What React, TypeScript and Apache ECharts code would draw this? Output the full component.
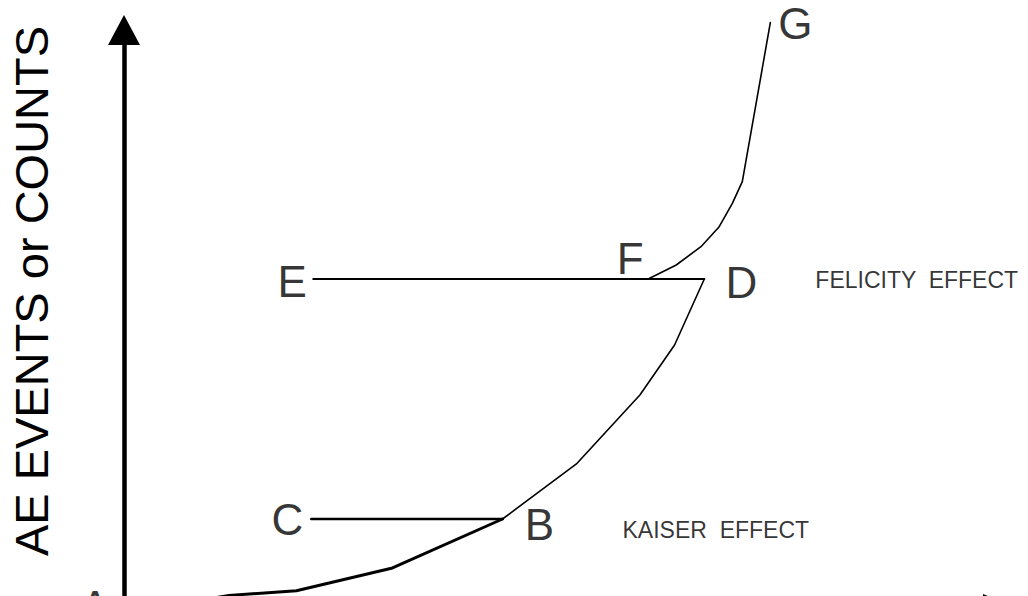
import React, { useEffect, useRef } from "react";
import * as echarts from "echarts";

// Schematic AE counts vs load (Kaiser / Felicity effect), values in arbitrary units 0..100
const loadingCurveAB: [number, number][] = [
  [0, 0],
  [10.2, 0.12],
  [12.14, 0.62],
  [19.93, 1.46],
  [31.04, 5.45],
  [43.76, 14.06],
];
const loadingCurveBD: [number, number][] = [
  [43.76, 14.06],
  [52.38, 23.85],
  [59.64, 35.85],
  [63.65, 44.64],
  [67.09, 56.24],
];
const unloadBC: [number, number][] = [
  [43.76, 14.06],
  [21.65, 14.06],
];
const unloadDE: [number, number][] = [
  [67.09, 56.24],
  [21.88, 56.24],
];
const reloadFG: [number, number][] = [
  [60.6, 56.24],
  [63.84, 58.7],
  [66.7, 61.92],
  [68.81, 65.43],
  [70.33, 69.54],
  [71.48, 73.34],
  [74.72, 101.3],
];
const pointLabels = ["A", "B", "C", "D", "E", "F", "G"];
const effectLabels = ["KAISER  EFFECT", "FELICITY  EFFECT"];
const yAxisTitle = "AE EVENTS or COUNTS";

const FONT = "'Liberation Sans', Arial, Helvetica, sans-serif";
const INK = "#000";

const anchors: Record<string, [number, number]> = {
  A: loadingCurveAB[0],
  B: loadingCurveAB[loadingCurveAB.length - 1],
  C: unloadBC[1],
  D: unloadDE[0],
  E: unloadDE[1],
  F: reloadFG[0],
  G: reloadFG[reloadFG.length - 1],
};
const letterOffsets: Record<string, [number, number]> = {
  A: [-29, 7],
  B: [37, 6],
  C: [-24, 1],
  D: [37, 4],
  E: [-21, 3],
  F: [-18, -20],
  G: [25, 1],
};

export default function App() {
  const ref = useRef<HTMLDivElement>(null);
  useEffect(() => {
    const chart = echarts.init(ref.current!, null, { renderer: "svg" });

    const letterData = pointLabels.map((l) => ({
      value: anchors[l],
      name: l,
      label: {
        show: true,
        position: "inside",
        offset: letterOffsets[l],
        formatter: l,
        fontSize: 44,
        lineHeight: 34,
        fontFamily: FONT,
        color: INK,
        align: "center",
        verticalAlign: "middle",
      },
    }));
    const effectData = [
      {
        value: anchors.B,
        name: effectLabels[0],
        label: {
          show: true,
          position: "inside",
          offset: [120, 11],
          formatter: effectLabels[0],
          fontSize: 23,
          fontFamily: FONT,
          color: INK,
          align: "left",
          verticalAlign: "middle",
        },
      },
      {
        value: anchors.D,
        name: effectLabels[1],
        label: {
          show: true,
          position: "inside",
          offset: [111, 1],
          formatter: effectLabels[1],
          fontSize: 23,
          fontFamily: FONT,
          color: INK,
          align: "left",
          verticalAlign: "middle",
        },
      },
    ];

    const lineSeries = (name: string, data: [number, number][], width: number) => ({
      type: "line",
      name,
      data,
      showSymbol: false,
      symbol: "none",
      smooth: false,
      clip: false,
      silent: true,
      lineStyle: { color: INK, width, cap: "round", join: "round" },
      z: 3,
    });

    chart.setOption({
      animation: false,
      backgroundColor: "#fff",
      grid: { left: 116, right: 39, top: 30, bottom: 21, containLabel: false },
      xAxis: {
        type: "value",
        min: 0,
        max: 100,
        axisLine: {
          show: true,
          symbol: ["none", "triangle"],
          symbolSize: [10, 12],
          lineStyle: { color: INK, width: 4 },
        },
        axisTick: { show: false },
        axisLabel: { show: false },
        splitLine: { show: false },
      },
      yAxis: {
        type: "value",
        min: 0,
        max: 100,
        name: yAxisTitle,
        nameLocation: "middle",
        nameGap: 69,
        nameRotate: 90,
        nameTextStyle: {
          fontSize: 47,
          fontFamily: FONT,
          color: INK,
          padding: [0, 0, 0, 47],
        },
        axisLine: {
          show: true,
          symbol: ["none", "triangle"],
          symbolSize: [32, 30],
          lineStyle: { color: INK, width: 4.5 },
        },
        axisTick: { show: false },
        axisLabel: { show: false },
        splitLine: { show: false },
      },
      series: [
        lineSeries("Loading A-B", loadingCurveAB, 3),
        lineSeries("Loading B-D", loadingCurveBD, 1.6),
        lineSeries("Unloading B-C", unloadBC, 2.5),
        lineSeries("Unloading D-E", unloadDE, 2),
        lineSeries("Reloading F-G", reloadFG, 1.6),
        {
          type: "scatter",
          name: "letters",
          data: [...letterData, ...effectData],
          symbolSize: 1,
          itemStyle: { color: "rgba(0,0,0,0)" },
          silent: true,
          clip: false,
          z: 5,
        },
      ],
    });
    return () => chart.dispose();
  }, []);
  return (
    <div
      ref={ref}
      style={{ position: "fixed", left: 0, top: 0, width: 1028, height: 620, background: "#fff" }}
    />
  );
}
